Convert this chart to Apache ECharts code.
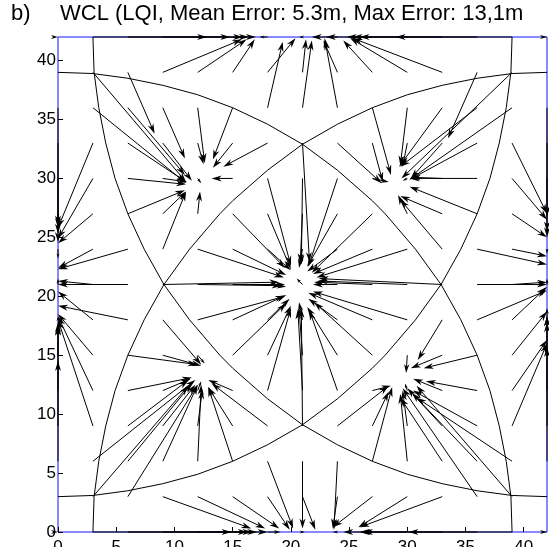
<!DOCTYPE html>
<html lang="en">
<head>
<meta charset="UTF-8">
<title>WCL (LQI)</title>
<script src="https://cdn.jsdelivr.net/npm/echarts@6/dist/echarts.min.js"></script>
<style>html,body{margin:0;padding:0;background:#fff}</style>
</head>
<body>
<div id="main" style="width:549px;height:547px"></div>
<script>
    // quiver rows: every entry is [tail x, head x, head y], tail y comes from rowY
    var rowY = [42, 39, 36, 33, 30, 27, 24, 21, 18, 15, 12, 9, 6, 3, 0];

    var row42 = [[0,0,42],[3,12.8,42],[6,14.8,42],[9,15.9,42],[12,16.4,42],[15,17.0,42],[18,17.3,42],
                 [21,20.7,42],[24,21.8,42],[27,23.0,42],[30,24.8,42],[33,25.3,42],[36,25.9,42],[39,29.0,42],[42,42,42]];
    var row39 = [[3,11.0,29.7],[6,8.3,33.8],[9,15.8,41.8],[12,16.2,41.8],[15,16.9,41.8],[18,20.4,41.9],[21,21.3,41.8],
                 [24,22.8,41.7],[27,24.5,41.7],[30,25.1,41.9],[33,25.3,41.9],[36,33.5,33.4],[39,29.5,30.0]];
    var row36 = [[0,0,26.0],[3,11.0,29.6],[6,10.9,30.3],[9,10.9,31.7],[12,12.6,31.3],[15,13.3,31.6],[18,19.3,41.6],
                 [21,21.8,41.7],[24,22.9,41.9],[27,28.6,30.3],[30,29.4,31.1],[33,29.3,31.0],[36,29.4,31.0],[39,30.2,29.9],[42,42,26.8]];
    var row33 = [[0,0,25.8],[3,0,25.8],[6,11.0,29.7],[9,11.5,29.8],[12,12.5,31.2],[15,13.3,30.9],[18,14.2,31.0],
                 [21,21.6,22.9],[24,27.8,29.6],[27,27.9,29.7],[30,29.6,31.0],[33,30.3,30.0],[36,30.2,29.9],[39,42,27.0],[42,42,26.8]];
    var row30 = [[0,0,25.3],[3,0,24.9],[6,11.0,29.5],[9,11.1,29.7],[12,12.3,29.6],[15,13.2,30.0],[18,20.0,22.6],
                 [21,20.9,22.7],[24,21.5,22.5],[27,28.4,29.7],[30,29.6,29.8],[33,30.3,30.1],[36,30.2,30.0],[39,42,26.5],[42,42,25.5]];
    var row27 = [[0,0,24.6],[3,0,24.5],[6,10.9,29.0],[9,11.0,28.9],[12,12.2,28.9],[15,19.5,22.4],[18,20.0,22.3],
                 [21,20.8,22.8],[24,21.4,22.5],[27,21.8,22.0],[30,29.2,28.6],[33,29.4,28.5],[36,30.2,29.3],[39,42,25.0],[42,42,25.0]];
    var row24 = [[0,0,23.2],[3,0,22.4],[6,0,22.3],[9,11.0,28.9],[12,19.4,21.6],[15,19.6,21.8],[18,20.0,22.2],
                 [21,20.7,22.4],[24,21.4,22.1],[27,21.9,21.9],[30,22.2,21.6],[33,29.4,28.2],[36,42,22.7],[39,42,23.4],[42,42,23.6]];
    var row21 = [[0,0,21.5],[3,0,21.3],[6,0,21.0],[9,19.0,21.2],[12,19.2,20.9],[15,19.5,21.0],[18,19.6,20.8],
                 [21,20.5,21.5],[24,21.9,21.0],[27,22.0,21.2],[30,22.3,21.3],[33,22.4,21.5],[36,42,21.0],[39,42,21.2],[42,42,21.5]];
    var row18 = [[0,0,18.3],[3,0,20.4],[6,0,19.2],[9,12.3,14.2],[12,19.5,20.0],[15,19.6,20.1],[18,19.9,19.8],
                 [21,20.7,19.5],[24,21.5,19.8],[27,21.5,20.3],[30,21.9,20.4],[33,30.9,14.6],[36,42,20.5],[39,42,20.8],[42,42,19.0]];
    var row15 = [[0,0,17.6],[3,0,18.5],[6,12.0,14.2],[9,12.3,14.1],[12,12.6,14.3],[15,19.6,19.4],[18,20.0,19.2],
                 [21,20.7,19.0],[24,21.4,19.1],[27,22.0,19.5],[30,29.9,13.5],[33,30.3,13.9],[36,31.4,13.9],[39,42,18.7],[42,42,18.3]];
    var row12 = [[0,0,17.8],[3,0,18.3],[6,11.5,13.1],[9,11.4,13.0],[12,12.3,12.8],[15,12.9,12.9],[18,20.0,19.0],
                 [21,20.6,18.9],[24,21.6,18.8],[27,28.6,12.4],[30,29.8,12.6],[33,30.5,13.0],[36,31.6,12.8],[39,42,16.3],[42,42,18.3]];
    var row9  = [[0,0,17.5],[3,0,18.0],[6,11.2,12.9],[9,11.8,12.5],[12,12.4,12.1],[15,12.9,12.3],[18,13.2,12.6],
                 [21,20.9,19.0],[24,28.4,12.4],[27,28.4,11.9],[30,29.6,12.0],[33,30.0,12.2],[36,30.5,12.0],[39,42,16.0],[42,42,17.8]];
    var row6  = [[0,0,14.5],[3,11.8,12.9],[6,11.5,12.6],[9,12.0,12.5],[12,12.3,12.5],[15,12.9,12.3],[18,20.2,0.3],
                 [21,21.0,0.3],[24,23.7,0.2],[27,28.7,12.3],[30,29.4,11.7],[33,29.4,11.4],[36,30.4,11.8],[39,30.8,11.4],[42,42,15.7]];
    var row3  = [[3,11.2,12.4],[6,12.0,12.5],[9,16.6,0.3],[12,17.8,0.3],[15,19.0,0.3],[18,19.9,0.2],[21,22.1,0.2],
                 [24,23.6,0.3],[27,23.6,0.4],[30,25.8,0.4],[33,25.9,0.4],[36,29.6,12.2],[39,30.8,12.4]];
    var row0  = [[0,0,0],[3,14.9,0],[6,16.3,0],[9,16.7,0],[12,17.1,0],[15,18.0,0],[18,19.1,0],[21,21.2,0],
                 [24,23.6,0],[27,24.5,0],[30,25.9,0],[33,26.2,0],[36,26.0,0],[39,30.1,0],[42,42,0]];

    var rows = [row42, row39, row36, row33, row30, row27, row24, row21, row18, row15, row12, row9, row6, row3, row0];

    // region boundaries (four arcs)
    var arcA = [[0,39],[3,38.9],[6,38.5],[9,37.9],[12,37.1],[15,36],[18,34.6],[21,32.9],[24,30.7],[27,28.1],
                [28.1,27],[30.7,24],[32.9,21],[34.6,18],[36,15],[37.1,12],[37.9,9],[38.5,6],[38.9,3],[39,0]];
    var arcB = [[42,39],[39,38.9],[36,38.5],[33,37.9],[30,37.1],[27,36],[24,34.6],[21,32.9],[18,30.7],[15,28.1],
                [13.9,27],[11.3,24],[9.1,21],[7.4,18],[6,15],[4.9,12],[4.1,9],[3.5,6],[3.1,3],[3,0]];
    var arcC = [[0,3],[3,3.1],[6,3.5],[9,4.1],[12,4.9],[15,6],[18,7.4],[21,9.1],[24,11.3],[27,13.9],
                [28.1,15],[30.7,18],[32.9,21],[34.6,24],[36,27],[37.1,30],[37.9,33],[38.5,36],[38.9,39],[39,42]];
    var arcD = [[42,3],[39,3.1],[36,3.5],[33,4.1],[30,4.9],[27,6],[24,7.4],[21,9.1],[18,11.3],[15,13.9],
                [13.9,15],[11.3,18],[9.1,21],[7.4,24],[6,27],[4.9,30],[4.1,33],[3.5,36],[3.1,39],[3,42]];

    var arrows = [];
    rows.forEach(function (row, i) {
        row.forEach(function (a) {
            arrows.push([a[0], rowY[i], a[1], a[2]]);
        });
    });

    var myChart = echarts.init(document.getElementById('main'));

    function renderArrow(params, api) {
        var p0 = api.coord([api.value(0), api.value(1)]);
        var p1 = api.coord([api.value(2), api.value(3)]);
        var dx = p1[0] - p0[0], dy = p1[1] - p0[1];
        var len = Math.sqrt(dx * dx + dy * dy);
        var ux = 1, uy = 0;
        if (len > 0.5) { ux = dx / len; uy = dy / len; }
        var hl = len > 0.5 ? Math.min(10, Math.max(5, len * 0.5)) : 7;
        var hw = hl * 0.3;
        var bx = p1[0] - ux * hl, by = p1[1] - uy * hl;
        var nx = p1[0] - ux * hl * 0.7, ny = p1[1] - uy * hl * 0.7;
        var kids = [{
            type: 'polygon',
            shape: {points: [[p1[0], p1[1]], [bx - uy * hw, by + ux * hw], [nx, ny], [bx + uy * hw, by - ux * hw]]},
            style: {fill: '#000'}
        }];
        if (len > 0.5) {
            kids.unshift({
                type: 'line',
                shape: {x1: p0[0], y1: p0[1], x2: nx, y2: ny},
                style: {stroke: '#000', lineWidth: 1}
            });
        }
        return {type: 'group', children: kids};
    }

    var font = "'Liberation Sans', Arial, Helvetica, sans-serif";

    function arcSeries(d) {
        return {
            type: 'line', data: d, symbol: 'none', silent: true,
            lineStyle: {color: '#000', width: 1}, z: 2
        };
    }

    var option = {
        animation: false,
        title: [
            {text: 'b)', left: 11, top: 3, padding: 0,
             textStyle: {fontSize: 22, fontWeight: 'normal', color: '#000', fontFamily: font}},
            {text: 'WCL (LQI, Mean Error: 5.3m, Max Error: 13,1m', left: 60, top: 3, padding: 0,
             textStyle: {fontSize: 22, fontWeight: 'normal', color: '#000', fontFamily: font}}
        ],
        grid: {
            left: 58, right: 2, top: 37, bottom: 15,
            outerBoundsMode: 'none', containLabel: false,
            show: true, borderColor: '#1414ff', borderWidth: 1
        },
        xAxis: {
            type: 'value', min: 0, max: 42, interval: 5,
            axisLine: {show: false},
            axisTick: {inside: true, length: 5, lineStyle: {color: '#000'}},
            axisLabel: {showMaxLabel: false, margin: 7, fontSize: 17, color: '#000', fontFamily: font},
            splitLine: {show: false}
        },
        yAxis: {
            type: 'value', min: 0, max: 42, interval: 5,
            axisLine: {show: false},
            axisTick: {inside: true, length: 5, lineStyle: {color: '#000'}},
            axisLabel: {showMaxLabel: false, margin: 2, fontSize: 17, color: '#000', fontFamily: font},
            splitLine: {show: false}
        },
        series: [
            arcSeries(arcA), arcSeries(arcB), arcSeries(arcC), arcSeries(arcD),
            {
                type: 'custom', renderItem: renderArrow, data: arrows, clip: false, silent: true, z: 3,
                encode: {x: [0, 2], y: [1, 3]}
            }
        ]
    };

    myChart.setOption(option);
</script>
</body>
</html>
